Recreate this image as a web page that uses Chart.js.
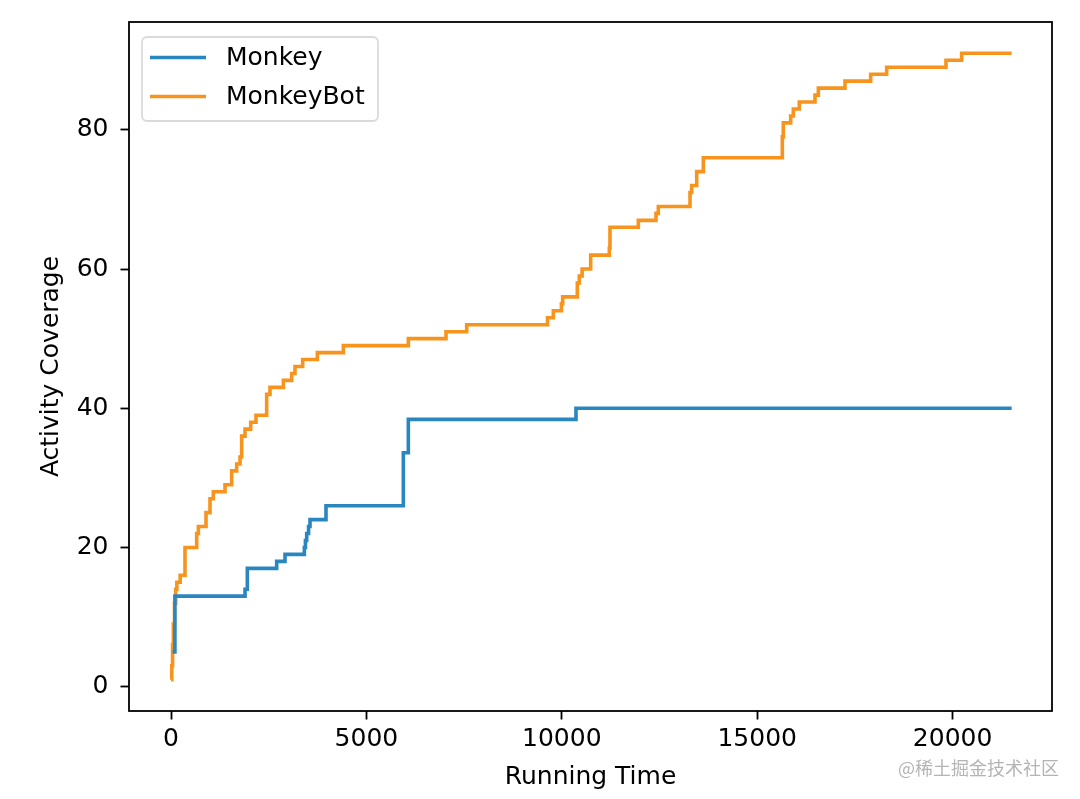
<!DOCTYPE html>
<html>
<head>
<meta charset="utf-8">
<style>
  html, body { margin: 0; padding: 0; background: #ffffff; }
  #wrap { width: 1080px; height: 799px; }
</style>
<script src="https://cdn.jsdelivr.net/npm/chart.js@4.4.1/dist/chart.umd.min.js"></script>
</head>
<body>
<div id="wrap"><canvas id="c" width="1080" height="799"></canvas></div>
<script>
// ---- data ----
const seriesNames = ['Monkey', 'MonkeyBot'];
const monkeyTime = [40, 100, 1894, 1953, 2704, 2917, 3412, 3440, 3472, 3520, 3557, 3966, 5945, 6073, 10363, 21512];
const monkeyCov  = [5, 13, 14, 17, 18, 19, 20, 21, 22, 23, 24, 26, 33.6, 38.4, 40, 40];
const botTime = [0, 20, 40, 60, 90, 120, 150, 235, 358, 657, 700, 896, 998, 1083, 1382, 1552, 1680, 1766, 1808, 1894,
  2039, 2175, 2448, 2533, 2875, 3088, 3173, 3369, 3745, 4410, 6073, 7037, 7566, 9635, 9783, 9990, 10022, 10397,
  10448, 10520, 10739, 11216, 11233, 11958, 12411, 12470, 13281, 13323, 13452, 13622, 15643, 15668, 15857, 15925,
  16078, 16479, 16565, 17247, 17904, 18313, 19831, 20232, 21512];
const botCov = [1, 3, 6, 9, 12, 14, 15, 16, 20, 22, 23, 25, 27, 28, 29, 31, 32, 33, 36, 37,
  38, 39, 42, 43, 44, 45, 46, 47, 48, 49, 50, 51, 52, 53, 54, 55, 56, 58,
  59, 60, 62, 63, 66, 67, 68, 69, 71, 72, 74, 76, 79, 81, 82, 83,
  84, 85, 86, 87, 88, 89, 90, 91, 91];
const xTickValues = [0, 5000, 10000, 15000, 20000];
const xTickLabels = ['0', '5000', '10000', '15000', '20000'];
const yTickValues = [0, 20, 40, 60, 80];
const yTickLabels = ['0', '20', '40', '60', '80'];
const xTitle = 'Running Time';
const yTitle = 'Activity Coverage';
const watermark = '@稀土掘金技术社区';

const colors = ['#2a86bf', '#f7941d'];
const FONT = "'DejaVu Sans', 'Liberation Sans', sans-serif";
const FS = 25;

const toPoints = (xs, ys) => xs.map((x, i) => ({ x: x, y: ys[i] }));

const framePlugin = {
  id: 'frame',
  afterDatasetsDraw(chart) {
    const { ctx, chartArea: a } = chart;
    ctx.save();
    ctx.strokeStyle = '#000';
    ctx.lineWidth = 1.8;
    ctx.strokeRect(a.left, a.top, a.right - a.left, a.bottom - a.top);
    ctx.restore();
  }
};

const legendPlugin = {
  id: 'mplLegend',
  afterDraw(chart) {
    const { ctx } = chart;
    const bx = 142, by = 37, bw = 236, bh = 84, r = 5;
    ctx.save();
    ctx.globalAlpha = 0.85;
    ctx.fillStyle = '#ffffff';
    ctx.strokeStyle = '#d4d4d4';
    ctx.lineWidth = 1.8;
    ctx.beginPath();
    ctx.moveTo(bx + r, by);
    ctx.lineTo(bx + bw - r, by);
    ctx.arcTo(bx + bw, by, bx + bw, by + r, r);
    ctx.lineTo(bx + bw, by + bh - r);
    ctx.arcTo(bx + bw, by + bh, bx + bw - r, by + bh, r);
    ctx.lineTo(bx + r, by + bh);
    ctx.arcTo(bx, by + bh, bx, by + bh - r, r);
    ctx.lineTo(bx, by + r);
    ctx.arcTo(bx, by, bx + r, by, r);
    ctx.closePath();
    ctx.fill();
    ctx.stroke();
    ctx.globalAlpha = 1;
    const rows = [57.5, 96.5];
    chart.data.datasets.forEach((ds, i) => {
      const y = rows[i];
      ctx.strokeStyle = ds.borderColor;
      ctx.lineWidth = 3.6;
      ctx.beginPath();
      ctx.moveTo(150, y);
      ctx.lineTo(206, y);
      ctx.stroke();
      ctx.fillStyle = '#000';
      ctx.font = FS + 'px ' + FONT;
      ctx.textAlign = 'left';
      ctx.textBaseline = 'middle';
      ctx.fillText(ds.label, 226, y + 1);
    });
    // watermark
    ctx.fillStyle = '#b4b4b4';
    ctx.font = "18px 'Noto Sans CJK SC', sans-serif";
    ctx.textAlign = 'right';
    ctx.textBaseline = 'middle';
    ctx.fillText(watermark, 1059, 768);
    ctx.restore();
  }
};

new Chart(document.getElementById('c'), {
  type: 'line',
  data: {
    datasets: [
      { label: seriesNames[0], data: toPoints(monkeyTime, monkeyCov), borderColor: colors[0], backgroundColor: colors[0],
        borderWidth: 3.6, pointRadius: 0, stepped: true, fill: false },
      { label: seriesNames[1], data: toPoints(botTime, botCov), borderColor: colors[1], backgroundColor: colors[1],
        borderWidth: 3.6, pointRadius: 0, stepped: true, fill: false }
    ]
  },
  options: {
    responsive: false,
    animation: false,
    devicePixelRatio: 1,
    layout: { padding: { top: 22, right: 28, left: 0, bottom: 0 } },
    plugins: { legend: { display: false }, tooltip: { enabled: false } },
    scales: {
      x: {
        type: 'linear',
        min: -1075, max: 22544,
        afterBuildTicks(axis) { axis.ticks = xTickValues.map(v => ({ value: v })); },
        afterFit(axis) { axis.height = 88; axis.paddingLeft = 0; axis.paddingRight = 0; },
        ticks: {
          autoSkip: false, maxRotation: 0, padding: 5, color: '#000',
          font: { family: FONT, size: FS },
          callback: (v) => { const i = xTickValues.indexOf(v); return i >= 0 ? xTickLabels[i] : ''; }
        },
        grid: { drawOnChartArea: false, drawTicks: true, tickLength: 8.5, tickColor: '#000', tickWidth: 1.8 },
        border: { display: false },
        title: { display: true, text: xTitle, color: '#000', font: { family: FONT, size: FS }, padding: { top: 0, bottom: 7 } }
      },
      y: {
        type: 'linear',
        min: -3.5, max: 95.5,
        afterBuildTicks(axis) { axis.ticks = yTickValues.map(v => ({ value: v })); },
        afterFit(axis) { axis.width = 129; axis.paddingTop = 0; axis.paddingBottom = 0; },
        ticks: {
          autoSkip: false, padding: 12, color: '#000',
          font: { family: FONT, size: FS },
          callback: (v) => { const i = yTickValues.indexOf(v); return i >= 0 ? yTickLabels[i] : ''; }
        },
        grid: { drawOnChartArea: false, drawTicks: true, tickLength: 8.5, tickColor: '#000', tickWidth: 1.8 },
        border: { display: false },
        title: { display: true, text: yTitle, color: '#000', font: { family: FONT, size: FS }, padding: { top: 36, bottom: 0 } }
      }
    }
  },
  plugins: [framePlugin, legendPlugin]
});
</script>
</body>
</html>
